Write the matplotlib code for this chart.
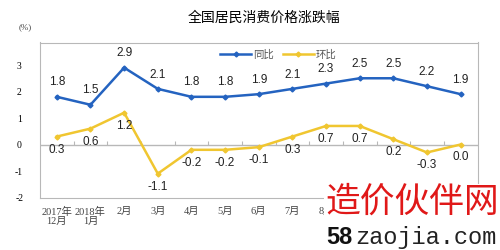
import matplotlib.pyplot as plt
import numpy as np

plt.rcParams['font.family'] = ['Noto Sans CJK SC', 'DejaVu Sans']

months = ['2017年\n12月', '2018年\n1月', '2月', '3月', '4月', '5月', '6月',
          '7月', '8月', '9月', '10月', '11月', '12月']
yoy = [1.8, 1.5, 2.9, 2.1, 1.8, 1.8, 1.9, 2.1, 2.3, 2.5, 2.5, 2.2, 1.9]
mom = [0.3, 0.6, 1.2, -1.1, -0.2, -0.2, -0.1, 0.3, 0.7, 0.7, 0.2, -0.3, 0.0]

blue = '#2463c0'
yellow = '#f0c630'
grey = '#b8b8b8'

fig = plt.figure(figsize=(5, 2.5), dpi=100)
ax = fig.add_axes([0.08, 0.21, 0.875, 0.62])

x = np.arange(len(months))
ax.plot(x, yoy, color=blue, lw=1.8, marker='D', ms=2.5, label='同比')
ax.plot(x, mom, color=yellow, lw=1.8, marker='D', ms=2.5, label='环比')

for xi, v in zip(x, yoy):
    ax.annotate(f'{v:.1f}', (xi, v), xytext=(0, 6), textcoords='offset points',
                ha='center', va='bottom', fontsize=8.5, family='Liberation Sans', color='#222222')
for xi, v in zip(x, mom):
    ax.annotate(f'{v:.1f}', (xi, v), xytext=(0, -5), textcoords='offset points',
                ha='center', va='top', fontsize=8.5, family='Liberation Sans', color='#222222')

# zero line with category boundary ticks
ax.axhline(0, color=grey, lw=1, zorder=0)
bounds = np.arange(len(months) - 1) + 0.5
ax.vlines(bounds, 0, 0.12, color=grey, lw=0.8, zorder=0)

ax.set_xlim(-0.5, len(months) - 0.5)
ax.set_ylim(-2, 3.85)
ax.set_yticks([-2, -1, 0, 1, 2, 3])
ax.set_yticklabels(['-2', '-1', '0', '1', '2', '3'], family='Liberation Serif',
                   fontsize=7, ha='center')
ax.set_xticks(x)
ax.set_xticklabels(months, fontsize=7.5, linespacing=1.0, color='#444444',
                   family=['Liberation Serif', 'Noto Sans CJK SC'])
ax.tick_params(length=0)
ax.tick_params(axis='x', pad=7)
ax.tick_params(axis='y', pad=15)
for s in ax.spines.values():
    s.set_color(grey)

ax.legend(loc='center', bbox_to_anchor=(0.545, 0.92), ncol=2, frameon=False,
          fontsize=7.5, handlelength=3, columnspacing=0.8, handletextpad=0.2,
          labelcolor='#555555')

fig.text(0.528, 0.93, '全国居民消费价格涨跌幅', ha='center', va='center', fontsize=10)
fig.text(0.05, 0.89, '(%)', ha='center', va='center', fontsize=6.5,
         family='Liberation Serif', color='#444444')

# watermark
fig.text(0.65, 0.19, '造价伙伴网', ha='left', va='center', fontsize=25,
         color='#e01818', fontweight='medium',
         bbox=dict(facecolor='white', edgecolor='none', pad=1))
fig.text(0.652, 0.05, '58', ha='left', va='center', fontsize=17,
         fontweight='bold', family='Liberation Sans', color='#111111',
         bbox=dict(facecolor='white', edgecolor='none', pad=1))
fig.text(0.71, 0.05, 'zaojia.com', ha='left', va='center', fontsize=17,
         family='Liberation Mono', color='#222222')

fig.savefig('out.png', dpi=100)
